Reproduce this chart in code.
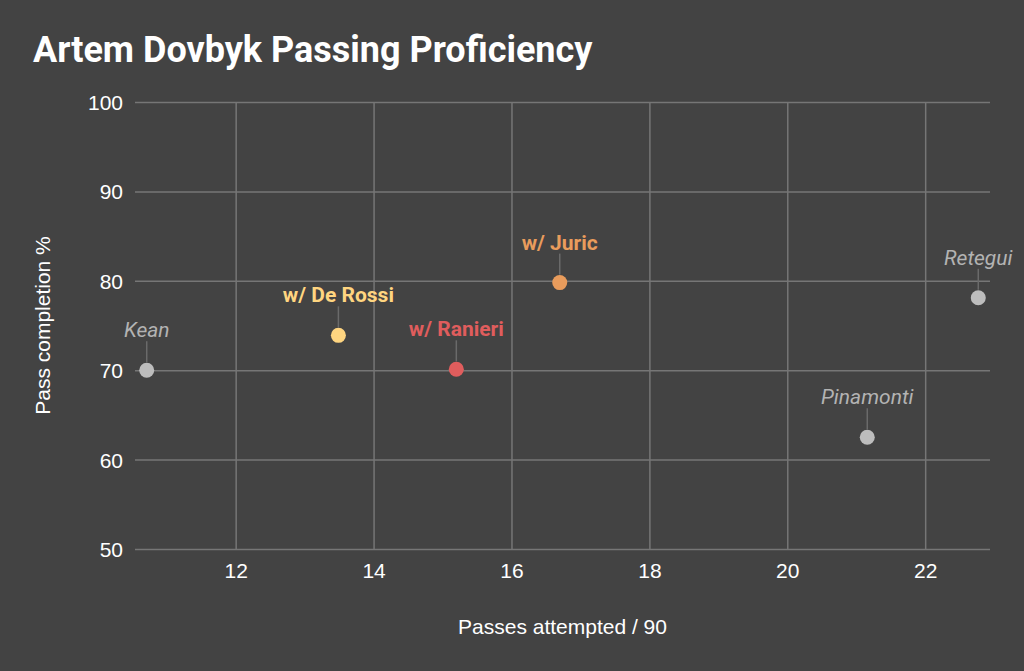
<!DOCTYPE html>
<html>
<head>
<meta charset="utf-8">
<script src="https://cdn.jsdelivr.net/npm/d3@7"></script>
<style>
  html, body { margin: 0; padding: 0; background: #434343; }
  svg { display: block; }
</style>
</head>
<body>
<div id="chart"></div>
<script>
// chart data
const names = ["Kean", "w/ De Rossi", "w/ Ranieri", "w/ Juric", "Pinamonti", "Retegui"];
const passesPer90 = [10.71, 13.49, 15.2, 16.7, 21.16, 22.77];
const completionPct = [70.0, 73.9, 70.1, 79.8, 62.5, 78.1];
const isCoach = [false, true, true, true, false, false];
const pointColors = ["#bdbdbd", "#ffd580", "#e05d5d", "#e99c5c", "#bdbdbd", "#bdbdbd"];

const xTicks = [12, 14, 16, 18, 20, 22];
const yTicks = [50, 60, 70, 80, 90, 100];

const width = 1024;
const height = 671;
const margin = { top: 102, right: 34, bottom: 122, left: 135 };

const data = names.map((name, i) => ({
  name,
  x: passesPer90[i],
  y: completionPct[i],
  coach: isCoach[i],
  color: pointColors[i],
}));

const svg = d3
  .select("#chart")
  .append("svg")
  .attr("width", width)
  .attr("height", height)
  .attr("viewBox", [0, 0, width, height]);

svg.append("rect").attr("width", width).attr("height", height).attr("fill", "#434343");

const x = d3
  .scaleLinear()
  .domain([10.54, 22.94])
  .range([margin.left, width - margin.right]);

const y = d3
  .scaleLinear()
  .domain([50, 100])
  .range([height - margin.bottom, margin.top]);

// title
svg
  .append("text")
  .attr("x", 33)
  .attr("y", 62)
  .attr("fill", "#ffffff")
  .attr("font-family", "Roboto")
  .attr("font-weight", 700)
  .attr("font-size", 36)
  .text("Artem Dovbyk Passing Proficiency");

// y gridlines + labels
const yAxis = svg
  .append("g")
  .attr("transform", `translate(${margin.left},0)`)
  .call(
    d3
      .axisLeft(y)
      .tickValues(yTicks)
      .tickSize(-(width - margin.left - margin.right))
      .tickPadding(12)
  );

// x gridlines + labels
const xAxis = svg
  .append("g")
  .attr("transform", `translate(0,${height - margin.bottom})`)
  .call(
    d3
      .axisBottom(x)
      .tickValues(xTicks)
      .tickSize(-(height - margin.top - margin.bottom))
      .tickPadding(14)
  );

[xAxis, yAxis].forEach((g) => {
  g.select(".domain").remove();
  g.selectAll(".tick line").attr("stroke", "#767676").attr("stroke-width", 1.5);
  g.selectAll(".tick text")
    .attr("fill", "#ffffff")
    .attr("font-family", "Liberation Sans, Arial, sans-serif")
    .attr("font-size", 21);
});
yAxis.selectAll(".tick text").attr("dy", "0.36em");

// axis titles
svg
  .append("text")
  .attr("x", (margin.left + width - margin.right) / 2)
  .attr("y", 634)
  .attr("text-anchor", "middle")
  .attr("fill", "#ffffff")
  .attr("font-family", "Liberation Sans, Arial, sans-serif")
  .attr("font-size", 21)
  .text("Passes attempted / 90");

svg
  .append("text")
  .attr("transform", `translate(50,${(margin.top + height - margin.bottom) / 2}) rotate(-90)`)
  .attr("text-anchor", "middle")
  .attr("fill", "#ffffff")
  .attr("font-family", "Liberation Sans, Arial, sans-serif")
  .attr("font-size", 21)
  .text("Pass completion %");

// leader lines
svg
  .selectAll(".leader")
  .data(data)
  .join("line")
  .attr("class", "leader")
  .attr("x1", (d) => x(d.x))
  .attr("x2", (d) => x(d.x))
  .attr("y1", (d) => y(d.y) - 29)
  .attr("y2", (d) => y(d.y) - 8)
  .attr("stroke", "#6a6a6a")
  .attr("stroke-width", 1.5);

// points
svg
  .selectAll(".dot")
  .data(data)
  .join("circle")
  .attr("class", "dot")
  .attr("cx", (d) => x(d.x))
  .attr("cy", (d) => y(d.y))
  .attr("r", 7.5)
  .attr("fill", (d) => d.color);

// labels
svg
  .selectAll(".label")
  .data(data)
  .join("text")
  .attr("class", "label")
  .attr("x", (d) => x(d.x))
  .attr("y", (d) => y(d.y) - 33)
  .attr("text-anchor", "middle")
  .attr("font-family", "Roboto")
  .attr("font-size", 21)
  .attr("font-weight", (d) => (d.coach ? 700 : 400))
  .attr("font-style", (d) => (d.coach ? "normal" : "italic"))
  .attr("fill", (d) => (d.coach ? d.color : "#b3b3b3"))
  .text((d) => d.name);
</script>
</body>
</html>
